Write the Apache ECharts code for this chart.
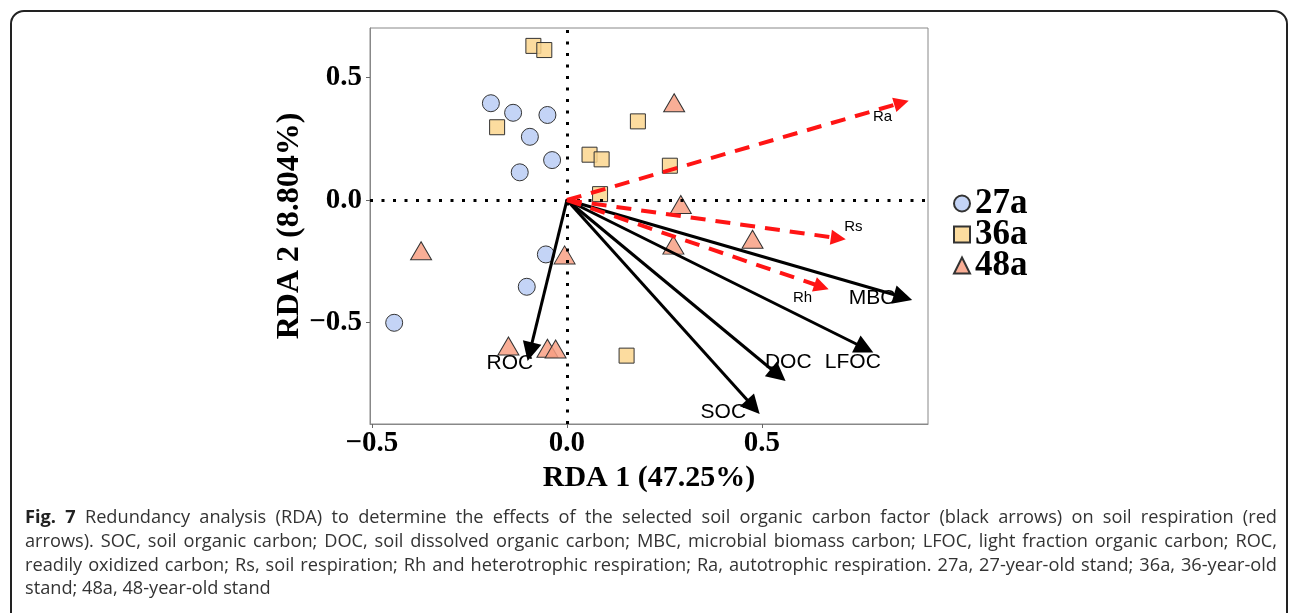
<!DOCTYPE html>
<html>
<head>
<meta charset="utf-8">
<script src="https://cdn.jsdelivr.net/npm/echarts@6/dist/echarts.min.js"></script>
<style>
  html, body {margin: 0; padding: 0; background: #fff;}
  .frame {
    position: absolute; left: 10px; top: 10px; width: 1278px; height: 640px;
    border: 2px solid #222; border-radius: 14px; box-sizing: border-box;
  }
  #main {position: absolute; left: 0; top: 0; width: 1292px; height: 613px;}
  .caption {
    position: absolute; left: 25px; top: 505px; width: 1252px;
    font-family: "Open Sans", sans-serif; font-size: 18.2px; line-height: 23.8px; color: #333;
    white-space: nowrap;
  }
  .caption .j {text-align: justify; text-align-last: justify;}
  .caption b {color: #222;}
</style>
</head>
<body>
<div class="frame"></div>
<div id="main"></div>
<div class="caption">
  <div class="j"><b>Fig. 7</b> Redundancy analysis (RDA) to determine the effects of the selected soil organic carbon factor (black arrows) on soil respiration (red</div>
  <div class="j">arrows). SOC, soil organic carbon; DOC, soil dissolved organic carbon; MBC, microbial biomass carbon; LFOC, light fraction organic carbon; ROC,</div>
  <div class="j">readily oxidized carbon; Rs, soil respiration; Rh and heterotrophic respiration; Ra, autotrophic respiration. 27a, 27-year-old stand; 36a, 36-year-old</div>
  <div>stand; 48a, 48-year-old stand</div>
</div>
<script>
  // site scores (RDA1, RDA2)
  const stand27a = [
    [-0.195, 0.395], [-0.138, 0.356], [-0.050, 0.347], [-0.095, 0.258],
    [-0.038, 0.163], [-0.121, 0.113], [-0.054, -0.222], [-0.103, -0.354],
    [-0.443, -0.501]
  ];
  const stand36a = [
    [-0.086, 0.629], [-0.058, 0.612], [-0.179, 0.297], [0.182, 0.321],
    [0.058, 0.185], [0.089, 0.166], [0.085, 0.024], [0.264, 0.140],
    [0.153, -0.635]
  ];
  const stand48a = [
    [0.275, 0.397], [0.292, -0.018], [0.476, -0.160], [0.273, -0.184],
    [-0.006, -0.224], [-0.374, -0.207], [-0.150, -0.596], [-0.050, -0.605],
    [-0.029, -0.608]
  ];

  // carbon factors (black arrows)
  const carbonNames = ['SOC', 'DOC', 'LFOC', 'MBC', 'ROC'];
  const carbonScores = [[0.478, -0.844], [0.542, -0.714], [0.764, -0.605], [0.862, -0.397], [-0.095, -0.619]];
  // respiration (red dashed arrows)
  const respNames = ['Ra', 'Rs', 'Rh'];
  const respScores = [[0.858, 0.397], [0.696, -0.156], [0.653, -0.354]];

  const tickValues = [-0.5, 0, 0.5];
  const tickLabels = {'-0.5': '\u22120.5', '0': '0.0', '0.5': '0.5'};

  // label offsets from arrow tip, px
  const labelOffset = {
    SOC: [-30, 5], DOC: [10, -13], LFOC: [-12, 14], MBC: [-31, 1], ROC: [-20, 11],
    Ra: [-19, 14], Rs: [15, -11], Rh: [-19, 11]
  };

  const serif = '"Liberation Serif", "Times New Roman", serif';
  const sans = '"Liberation Sans", Arial, sans-serif';

  const myChart = echarts.init(document.getElementById('main'));

  const pointStyle = (fill) => ({color: fill, borderColor: '#333', borderWidth: 1, opacity: 1});

  const arrowSeries = (names, scores, color, dashed, fontSize) => [{
    type: 'lines',
    coordinateSystem: 'cartesian2d',
    z: 5,
    symbol: ['none', 'triangle'],
    symbolSize: dashed ? [12, 15] : [14, 19],
    symbolOffset: dashed ? [0, 7.5] : [0, 9.5],
    lineStyle: {color: color, width: dashed ? 4 : 3, type: dashed ? [15, 10] : 'solid', opacity: 1},
    data: scores.map(s => ({coords: [[0, 0], s]}))
  }, {
    type: 'scatter',
    z: 6,
    symbolSize: 0,
    silent: true,
    itemStyle: {opacity: 1},
    data: scores.map((s, i) => ({
      value: s,
      label: {
        show: true, position: 'inside', formatter: names[i],
        offset: labelOffset[names[i]],
        fontFamily: sans, fontSize: fontSize, color: '#000'
      }
    }))
  }];

  const axisCommon = {
    axisLine: {show: true, onZero: false, lineStyle: {color: '#888', width: 1}},
    axisTick: {show: true, length: 4, customValues: tickValues, lineStyle: {color: '#666'}},
    splitLine: {show: false},
    axisLabel: {
      customValues: tickValues,
      formatter: v => tickLabels[String(v)],
      fontFamily: serif, fontWeight: 'bold', fontSize: 29, color: '#000'
    },
    nameTextStyle: {fontFamily: serif, fontWeight: 'bold', color: '#000'}
  };

  myChart.setOption({
    animation: false,
    grid: {left: 370, top: 28, width: 558, height: 396, show: true, borderColor: '#888', borderWidth: 1},
    xAxis: {
      ...axisCommon,
      type: 'value', min: -0.505, max: 0.926,
      name: 'RDA 1 (47.25%)', nameLocation: 'middle', nameGap: 33,
      nameTextStyle: {...axisCommon.nameTextStyle, fontSize: 30},
      axisLabel: {...axisCommon.axisLabel, margin: 5}
    },
    yAxis: {
      ...axisCommon,
      type: 'value', min: -0.914, max: 0.702,
      name: 'RDA 2 (8.804%)', nameLocation: 'middle', nameGap: 56,
      nameTextStyle: {...axisCommon.nameTextStyle, fontSize: 32},
      axisLabel: {...axisCommon.axisLabel, margin: 8}
    },
    legend: {
      orient: 'vertical', left: 948, top: 181, itemGap: -4,
      itemWidth: 16, itemHeight: 16,
      textStyle: {fontFamily: serif, fontWeight: 'bold', fontSize: 35, color: '#000'},
      data: [
        {name: '27a', icon: 'circle'},
        {name: '36a', icon: 'rect'},
        {name: '48a', icon: 'triangle'}
      ]
    },
    series: [
      {
        type: 'scatter', name: '27a', symbol: 'circle', symbolSize: 17, z: 2,
        itemStyle: pointStyle('rgba(186,204,244,0.85)'),
        markLine: {
          silent: true, symbol: 'none', label: {show: false},
          lineStyle: {color: '#000', width: 3, type: [3, 8.5]},
          data: [{xAxis: 0}, {yAxis: 0}]
        },
        data: stand27a
      },
      {
        type: 'scatter', name: '36a', symbol: 'rect', symbolSize: 15, z: 2,
        itemStyle: pointStyle('rgba(252,214,142,0.85)'),
        data: stand36a
      },
      {
        type: 'scatter', name: '48a', symbol: 'triangle', symbolSize: [21, 18], z: 2,
        itemStyle: pointStyle('rgba(248,160,132,0.85)'),
        data: stand48a
      },
      ...arrowSeries(carbonNames, carbonScores, '#000', false, 21),
      ...arrowSeries(respNames, respScores, '#ff1414', true, 15)
    ]
  });
</script>
</body>
</html>
